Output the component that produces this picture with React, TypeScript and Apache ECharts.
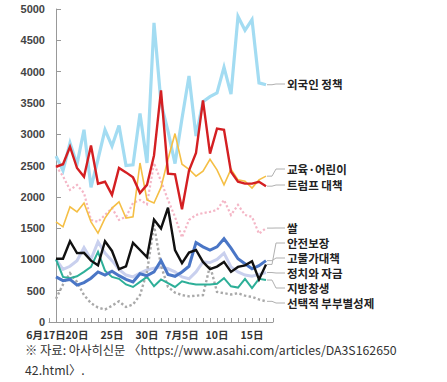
import React, { useEffect, useRef } from 'react';
import * as echarts from 'echarts';

const dates = ['6/17','6/18','6/19','6/20','6/21','6/22','6/23','6/24','6/25','6/26','6/27','6/28','6/29','6/30','7/1','7/2','7/3','7/4','7/5','7/6','7/7','7/8','7/9','7/10','7/11','7/12','7/13','7/14','7/15','7/16','7/17'];
const tickDates = ['6/17','6/20','6/25','6/30','7/5','7/10','7/15'];
const tickLabels = ['6月17日','20日','25日','30日','7月5日','10日','15日'];
const yTicks = [0, 500, 1000, 1500, 2000, 2500, 3000, 3500, 4000, 4500, 5000];

const foreignPolicy = [2650,2420,2860,2520,3070,2150,2600,3070,2810,3140,2500,2510,3330,2540,4780,3500,3050,2530,3250,3930,2970,3520,3600,3660,4070,3640,4880,4660,4830,3820,3790];
const education = [1600,1520,1840,1760,1900,1600,1420,1660,1820,1920,1660,1680,2540,1950,1900,2150,2600,3010,2520,2440,2330,2410,2600,2430,2190,2440,2270,2250,2140,2270,2330];
const trump = [2480,2520,2800,2460,2320,2820,2210,2240,2030,2460,2390,2310,2060,2190,2660,3700,2370,2360,1800,2420,2700,3540,2690,3090,3070,2400,2240,2210,2210,2240,2170];
const rice = [2490,2330,2110,2190,2060,1630,1600,1710,1820,1630,1680,1900,1950,1880,2540,2250,1950,1680,1350,1630,1710,1740,1760,1790,1950,1710,1870,1710,1680,1410,1500];
const security = [1010,1010,1290,1100,1105,980,905,1290,1135,845,890,1265,1150,1035,1635,1495,1825,1150,940,1110,1150,960,845,885,960,800,880,905,970,680,920];
const prices = [720,660,680,590,630,700,800,750,810,740,680,640,770,740,800,980,760,730,800,890,1270,1200,1150,1200,1330,1180,1010,930,850,900,980];
const politics = [1000,840,890,980,1190,1000,1280,1100,980,840,750,720,780,830,860,880,850,800,720,690,800,960,950,1000,1100,880,800,750,730,760,790];
const regional = [1000,720,700,730,800,880,1120,820,720,690,600,560,640,720,570,680,620,560,650,620,600,600,600,610,700,570,550,690,540,690,670];
const surname = [370,600,780,640,430,300,230,200,260,330,240,280,430,800,1550,900,560,470,430,410,420,430,900,480,460,440,460,420,400,360,330];

const seriesDefs = [
  { name: '외국인 정책', data: foreignPolicy, color: '#a3dcf2', width: 3.2, type: 'solid', labelY: 84 },
  { name: '쌀', data: rice, color: '#f4b6c6', width: 2.2, type: 'dotted', labelY: 228 },
  { name: '교육·어린이', data: education, color: '#f5bf45', width: 1.6, type: 'solid', labelY: 169 },
  { name: '트럼프 대책', data: trump, color: '#d41f22', width: 2.4, type: 'solid', labelY: 185 },
  { name: '정치와 자금', data: politics, color: '#c9d0ee', width: 3, type: 'solid', labelY: 273 },
  { name: '선택적 부부별성제', data: surname, color: '#a9a9a9', width: 2.4, type: 'dotted', labelY: 303 },
  { name: '지방창생', data: regional, color: '#2daf98', width: 2, type: 'solid', labelY: 288 },
  { name: '고물가대책', data: prices, color: '#4a76c6', width: 3, type: 'solid', labelY: 258 },
  { name: '안전보장', data: security, color: '#111111', width: 2.4, type: 'solid', labelY: 243 },
];

export default function App() {
  const ref = useRef<HTMLDivElement>(null);
  useEffect(() => {
    if (!ref.current) return;
    const chart = echarts.init(ref.current, null, { renderer: 'svg' });
    const labelFont = 'Noto Sans CJK KR';
    chart.setOption({
      animation: false,
      grid: { left: 49, right: 174, top: 9, bottom: 60 },
      xAxis: {
        type: 'value',
        min: -1,
        max: 31,
        interval: 1,
        axisLine: { show: true, lineStyle: { color: '#999', width: 1 } },
        axisTick: { show: true, inside: true, length: 4, lineStyle: { color: '#999' } },
        splitLine: { show: false },
        axisLabel: {
          color: '#333',
          fontSize: 10.5,
          fontWeight: 'bold',
          fontFamily: 'Noto Sans CJK JP',
          margin: 7,
          lineHeight: 11,
          showMinLabel: true,
          showMaxLabel: true,
          formatter: (v: number) => {
            const d = dates[v];
            const k = d ? tickDates.indexOf(d) : -1;
            if (k < 0) return '';
            if (k === 0) return '{first|' + tickLabels[k] + '}';
            return tickLabels[k];
          },
          rich: {
            first: { color: '#333', fontSize: 10.5, lineHeight: 11, fontWeight: 'bold', fontFamily: 'Noto Sans CJK JP', padding: [0, 20, 0, 0] },
          },
        },
      },
      yAxis: {
        type: 'value',
        min: 0,
        max: 5000,
        interval: 500,
        axisLine: { show: true, lineStyle: { color: '#999', width: 1 } },
        axisTick: { show: true, inside: true, length: 5, lineStyle: { color: '#999' } },
        splitLine: { show: false },
        axisLabel: {
          color: '#444',
          fontSize: 11,
          lineHeight: 10,
          fontWeight: 'bold',
          fontFamily: 'Liberation Sans',
          margin: 4,
          formatter: (v: number) => (yTicks.indexOf(v) >= 0 ? String(v) : ''),
        },
      },
      series: seriesDefs.map((s) => ({
        type: 'line',
        name: s.name,
        data: s.data.map((v, i) => [i, v]),
        showSymbol: false,
        symbol: 'none',
        lineStyle: { color: s.color, width: s.width, type: s.type, join: 'miter' },
        emphasis: { disabled: true },
      })),
    });

    const graphics: any[] = [];
    const textX = 287;
    seriesDefs.forEach((s) => {
      const last = s.data.length - 1;
      const p = chart.convertToPixel({ gridIndex: 0 }, [last, s.data[last]]) as number[];
      const x0 = p[0];
      const y0 = p[1];
      graphics.push({
        type: 'polyline',
        shape: { points: [[x0 + 1, y0], [x0 + 6, y0], [x0 + 10, s.labelY], [textX - 2, s.labelY]] },
        style: { stroke: '#b0b0b0', lineWidth: 1, fill: null },
        silent: true,
      });
      graphics.push({
        type: 'text',
        x: textX,
        y: s.labelY,
        style: {
          text: s.name,
          fill: '#222',
          fontSize: 11.5,
          lineHeight: 11,
          fontWeight: 'bold',
          fontFamily: labelFont,
          verticalAlign: 'middle',
          align: 'left',
        },
        silent: true,
      });
    });
    graphics.push({
      type: 'text',
      x: 25,
      y: 350,
      style: {
        text: '※ 자료: 아사히신문 〈https://www.asahi.com/articles/DA3S162650',
        fill: '#333',
        fontSize: 12.3,
        fontFamily: labelFont,
        verticalAlign: 'middle',
        align: 'left',
      },
    });
    graphics.push({
      type: 'text',
      x: 25,
      y: 370,
      style: {
        text: '42.html〉.',
        fill: '#333',
        fontSize: 12.3,
        fontFamily: labelFont,
        verticalAlign: 'middle',
        align: 'left',
      },
    });
    chart.setOption({ graphic: graphics });
    return () => chart.dispose();
  }, []);
  return (
    <div
      ref={ref}
      style={{ position: 'fixed', left: 0, top: 0, width: 447, height: 382, background: '#fff' }}
    />
  );
}
